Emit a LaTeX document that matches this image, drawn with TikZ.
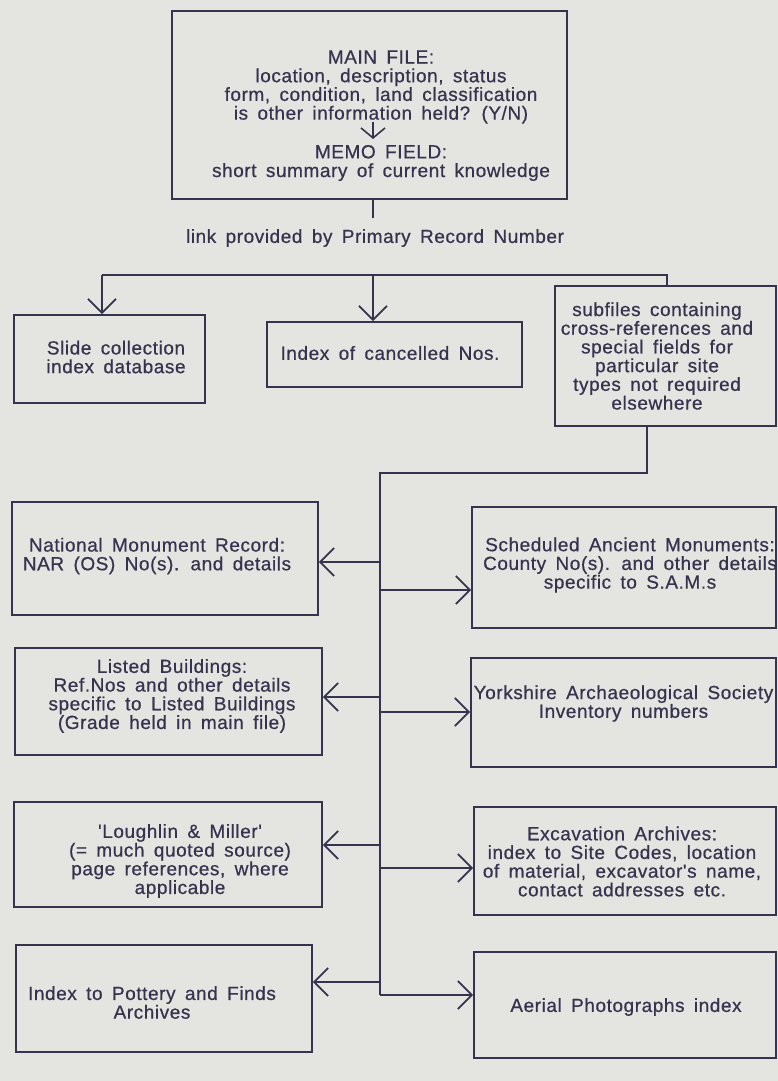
\documentclass[tikz,border=0pt]{standalone}
\usepackage{fontspec}
\newfontfamily\dfont{Liberation Sans}[LetterSpace=3.0,WordSpace=1.6,FakeBold=0.6]
\usetikzlibrary{arrows.meta}
\definecolor{ink}{HTML}{36334F}
\definecolor{paper}{HTML}{E4E4E0}
\begin{document}
\begin{tikzpicture}[x=1pt,y=-1pt,
  box/.style={draw=ink, line width=1.8pt, inner sep=0pt},
  txt/.style={text=ink, align=center, inner sep=0pt, font=\dfont\fontsize{19}{18.7}\selectfont},
  link/.style={draw=ink, line width=1.8pt},
  arr/.style={link, -{Straight Barb[length=14pt,width=28pt]}},
  smallarr/.style={link, line width=1.6pt, -{Straight Barb[length=10pt,width=24pt]}}]
\fill[paper] (0,0) rectangle (778,1081);
\useasboundingbox (0,0) rectangle (778,1081);

% main file
\node[box, minimum width=395pt, minimum height=188pt] (main) at (369.5,105) {};
\node[txt] (mainA) at (381,87) {MAIN FILE:\\location, description, status\\form, condition, land classification\\is other information held? (Y/N)};
\node[txt] (mainB) at (381,163) {MEMO FIELD:\\short summary of current knowledge};
\coordinate (memoTop) at (373,122);
\coordinate (memoTip) at (373,139);
\draw[smallarr] (memoTop) -- (memoTip);

% link
\node[txt] (linkT) at (375,238) {link provided by Primary Record Number};
\coordinate (linkTop) at (373,218);
\draw[link] (linkTop |- main.south) -- (linkTop);

% top row boxes
\node[box, minimum width=191pt, minimum height=88pt] (slide) at (109.5,359) {};
\node[txt] (slideT) at (116,357) {Slide collection\\index database};
\node[box, minimum width=255pt, minimum height=65pt] (idx) at (394.5,354.5) {};
\node[txt] (idxT) at (390,353) {Index of cancelled Nos.};
\node[box, minimum width=221pt, minimum height=140pt] (subf) at (665.5,356) {};
\node[txt] (subfT) at (657,356) {subfiles containing\\cross-references and\\special fields for\\particular site\\types not required\\elsewhere};

\coordinate (barL) at (102,275);
\coordinate (barM) at (373,275);
\coordinate (barR) at (667,275);
\draw[link] (barL) -- (barR) -- (barR |- subf.north);
\draw[arr] (barL) -- (barL |- slide.north);
\draw[arr] (barM) -- (barM |- idx.north);

% spine
\coordinate (subOut) at (647,473);
\coordinate (sTop) at (380,473);
\coordinate (sBot) at (380,995);
\draw[link] (subOut |- subf.south) -- (subOut) -- (sTop) -- (sBot);

% left column
\node[box, minimum width=306pt, minimum height=113pt] (nmr) at (165,558.5) {};
\node[txt] (nmrT) at (157,556) {National Monument Record:\\NAR (OS) No(s). and details};
\node[box, minimum width=307pt, minimum height=107pt] (lb) at (168.5,701.5) {};
\node[txt] (lbT) at (172,696) {Listed Buildings:\\Ref.Nos and other details\\specific to Listed Buildings\\(Grade held in main file)};
\node[box, minimum width=308pt, minimum height=105pt] (lm) at (168,854.5) {};
\node[txt] (lmT) at (180,861) {'Loughlin \& Miller'\\(= much quoted source)\\page references, where\\applicable};
\node[box, minimum width=296pt, minimum height=107pt] (pot) at (164,998.5) {};
\node[txt] (potT) at (152,1002.5) {Index to Pottery and Finds\\Archives};

% right column
\node[box, minimum width=304pt, minimum height=121pt] (sam) at (624,567.5) {};
\node[txt] (samT) at (630,565) {Scheduled Ancient Monuments:\\County No(s). and other details\\specific to S.A.M.s};
\node[box, minimum width=305pt, minimum height=109pt] (yas) at (623.5,712.5) {};
\node[txt] (yasT) at (623.5,703.5) {Yorkshire Archaeological Society\\Inventory numbers};
\node[box, minimum width=302pt, minimum height=108pt] (exc) at (625,861) {};
\node[txt] (excT) at (622,861.5) {Excavation Archives:\\index to Site Codes, location\\of material, excavator's name,\\contact addresses etc.};
\node[box, minimum width=302pt, minimum height=106pt] (aer) at (625,1005) {};
\node[txt] (aerT) at (626,1007) {Aerial Photographs index};

% branches
\coordinate (bl1) at (380,562);
\coordinate (bl2) at (380,697);
\coordinate (bl3) at (380,845);
\coordinate (bl4) at (380,982);
\coordinate (br1) at (380,590);
\coordinate (br2) at (380,712);
\coordinate (br3) at (380,868);
\draw[arr] (bl1) -- (bl1 -| nmr.east);
\draw[arr] (bl2) -- (bl2 -| lb.east);
\draw[arr] (bl3) -- (bl3 -| lm.east);
\draw[arr] (bl4) -- (bl4 -| pot.east);
\draw[arr] (br1) -- (br1 -| sam.west);
\draw[arr] (br2) -- (br2 -| yas.west);
\draw[arr] (br3) -- (br3 -| exc.west);
\draw[arr] (sBot) -- (sBot -| aer.west);
\end{tikzpicture}
\end{document}
